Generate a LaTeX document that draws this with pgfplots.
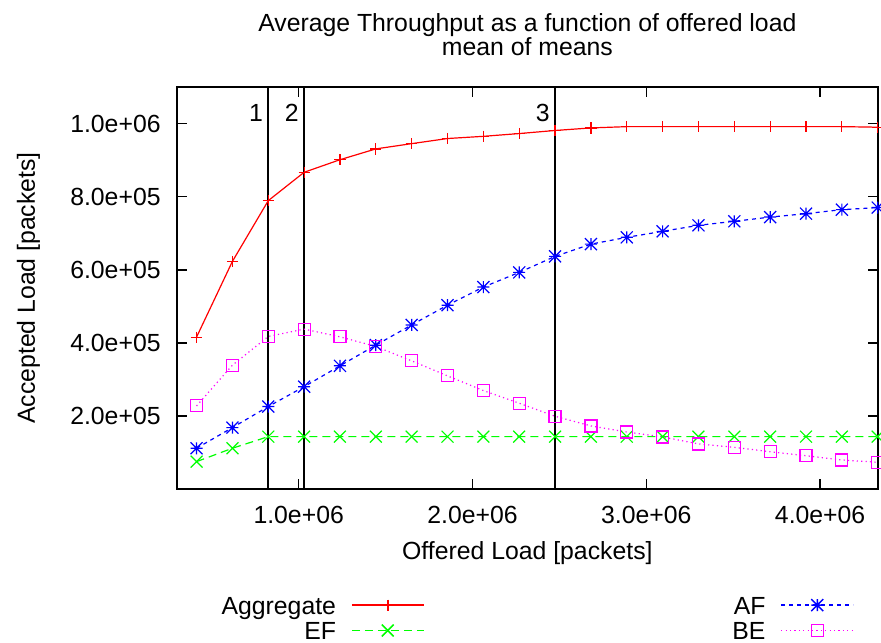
\documentclass[border=0pt]{standalone}
\usepackage{fontspec}
\setmainfont{Liberation Sans}
\usepackage{pgfplots}
\pgfplotsset{compat=1.18}
\definecolor{gpred}{RGB}{255,0,0}
\definecolor{gpgreen}{RGB}{0,255,0}
\definecolor{gpblue}{RGB}{0,0,255}
\definecolor{gpmag}{RGB}{255,0,255}
\pgfdeclareplotmark{gpstar}{%
  \pgfpathmoveto{\pgfqpoint{-\pgfplotmarksize}{0pt}}\pgfpathlineto{\pgfqpoint{\pgfplotmarksize}{0pt}}%
  \pgfpathmoveto{\pgfqpoint{0pt}{-\pgfplotmarksize}}\pgfpathlineto{\pgfqpoint{0pt}{\pgfplotmarksize}}%
  \pgfpathmoveto{\pgfqpoint{-\pgfplotmarksize}{-\pgfplotmarksize}}\pgfpathlineto{\pgfqpoint{\pgfplotmarksize}{\pgfplotmarksize}}%
  \pgfpathmoveto{\pgfqpoint{-\pgfplotmarksize}{\pgfplotmarksize}}\pgfpathlineto{\pgfqpoint{\pgfplotmarksize}{-\pgfplotmarksize}}%
  \pgfusepathqstroke}
\begin{document}
\fontsize{12.4}{14.9}\selectfont
\begin{tikzpicture}[font=\fontsize{12.4}{14.9}\selectfont]
\useasboundingbox (0,0) rectangle (440.5pt,321pt);
\begin{axis}[
  at={(88.5pt,76.5pt)}, anchor=south west,
  scale only axis, width=350.35pt, height=201pt,
  xmin=300000, xmax=4331250, ymin=0, ymax=1100000,
  xtick={1000000,2000000,3000000,4000000},
  xticklabels={1.0e+06,2.0e+06,3.0e+06,4.0e+06},
  ytick={200000,400000,600000,800000,1000000},
  yticklabels={2.0e+05,4.0e+05,6.0e+05,8.0e+05,1.0e+06},
  scaled ticks=false,
  tick align=inside,
  major tick length=5pt,
  tick style={black, line width=0.8pt},
  axis line style={line width=1pt},
  xticklabel style={inner sep=0pt, yshift=-8.5pt},
  yticklabel style={inner sep=0pt, xshift=-8pt},
  xlabel={Offered Load [packets]},
  ylabel={Accepted Load [packets]},
  xlabel style={at={(axis description cs:0.5,-0.1766)}, anchor=base},
  ylabel style={at={(axis description cs:-0.2027,0.5)}, anchor=base},
  clip=false,
  legend columns=2,
  legend plot pos=right,
  legend style={draw=none, fill=none, at={(axis description cs:-0.2383,-0.2679)}, anchor=north west,
    inner sep=0pt, outer sep=0pt, column sep=7.5pt, row sep=3.8pt,
    nodes={text width=163pt, align=right, inner sep=0pt, text height=8.9pt, text depth=0pt}},
  legend image code/.code={\draw[mark repeat=2,mark phase=2,#1,line width=0.75pt] plot coordinates {(0pt,0.25pt)(18pt,0.25pt)(36pt,0.25pt)};},
]
\addplot[black, line width=1pt, forget plot] coordinates {(825000,0) (825000,1100000)};
\addplot[black, line width=1pt, forget plot] coordinates {(1031250,0) (1031250,1100000)};
\addplot[black, line width=1pt, forget plot] coordinates {(2475000,0) (2475000,1100000)};
\node[anchor=base east, inner sep=0pt, xshift=-2.5pt] at (axis cs:825000,1006000) {1};
\node[anchor=base east, inner sep=0pt, xshift=-2.5pt] at (axis cs:1031250,1006000) {2};
\node[anchor=base east, inner sep=0pt, xshift=-2.5pt] at (axis cs:2475000,1006000) {3};
\node[anchor=base] at (axis description cs:0.5,1.1368) {Average Throughput as a function of offered load};
\node[anchor=base] at (axis description cs:0.5,1.0784) {mean of means};

\addplot[color=gpred, line width=0.6pt, mark=+, mark size=2.8pt, mark options={solid}] coordinates {
(412500,415600) (618750,622800) (825000,789000) (1031250,866600) (1237500,901000)
(1443750,930600) (1650000,945000) (1856250,959000) (2062500,965000) (2268750,972600)
(2475000,981000) (2681250,988000) (2887500,991500) (3093750,991500) (3300000,991500)
(3506250,991500) (3712500,991500) (3918750,991500) (4125000,991500) (4331250,990000)};
\addlegendentry{Aggregate}
\addplot[color=gpblue, line width=0.6pt, dash pattern=on 2pt off 2pt, mark=gpstar, mark size=3pt, mark options={solid}] coordinates {
(412500,111500) (618750,168000) (825000,225600) (1031250,280000) (1237500,337000)
(1443750,393600) (1650000,449000) (1856250,503000) (2062500,552500) (2268750,592700)
(2475000,636500) (2681250,670000) (2887500,688600) (3093750,705000) (3300000,721500)
(3506250,732500) (3712500,744000) (3918750,753400) (4125000,764400) (4331250,770000)};
\addlegendentry{AF}
\addplot[color=gpgreen, line width=0.6pt, dash pattern=on 4pt off 2.5pt, mark=x, mark size=4.2pt, mark options={solid}] coordinates {
(412500,74900) (618750,111500) (825000,143300) (1031250,143300) (1237500,143300)
(1443750,143300) (1650000,143300) (1856250,143300) (2062500,143300) (2268750,143300)
(2475000,143300) (2681250,143300) (2887500,143300) (3093750,143300) (3300000,143300)
(3506250,143300) (3712500,143300) (3918750,143300) (4125000,143300) (4331250,143300)};
\addlegendentry{EF}
\addplot[color=gpmag, line width=0.6pt, dash pattern=on 0.6pt off 1.6pt, mark=square, mark size=3pt, mark options={solid}] coordinates {
(412500,227400) (618750,338800) (825000,417300) (1031250,437500) (1237500,416400)
(1443750,390000) (1650000,350700) (1856250,309600) (2062500,269400) (2268750,234700)
(2475000,199000) (2681250,172600) (2887500,156000) (3093750,142500) (3300000,123300)
(3506250,114000) (3712500,102000) (3918750,91000) (4125000,79500) (4331250,73000)};
\addlegendentry{BE}
\end{axis}
\end{tikzpicture}
\end{document}
